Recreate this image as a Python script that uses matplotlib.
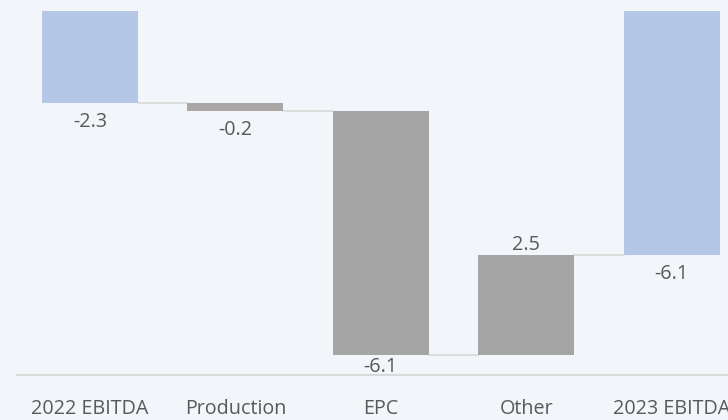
import matplotlib
matplotlib.use("Agg")
import matplotlib.pyplot as plt

categories = ["2022 EBITDA", "Production", "EPC", "Other", "2023 EBITDA"]
values = [-2.3, -0.2, -6.1, 2.5, -6.1]
is_total = [True, False, False, False, True]
labels = ["-2.3", "-0.2", "-6.1", "2.5", "-6.1"]

BG = "#f2f5f9"
BLUE = "#b4c7e7"
GRAY = "#a5a5a5"
PROD = "#aaa6a6"
LINE = "#d9d9d9"
TXT = "#595959"
FS = 14.2

plt.rcParams["font.family"] = ["Open Sans", "DejaVu Sans"]

fig = plt.figure(figsize=(7.28, 4.2), dpi=100, facecolor=BG)
ax = fig.add_axes([17.3 / 728, 1 - 375 / 420, 727 / 728, 364 / 420])
ax.set_facecolor(BG)

bottoms, tops, colors = [], [], []
run = 0.0
for i, (v, tot) in enumerate(zip(values, is_total)):
    if tot:
        b, t = 0.0, v
        run = v
        colors.append(BLUE)
    else:
        b, t = run, run + v
        run = run + v
        colors.append(PROD if i == 1 else GRAY)
    bottoms.append(b)
    tops.append(t)

x = list(range(len(categories)))
w = 0.66
heights = [t - b for b, t in zip(bottoms, tops)]
ax.bar(x, heights, bottom=bottoms, width=w, color=colors, linewidth=0, zorder=2)

# connectors
for i in range(len(x) - 1):
    level = tops[i]
    ax.plot([x[i] + w / 2, x[i + 1] - w / 2], [level, level], color=LINE, lw=1.2, zorder=1)

# value labels (EPC label is squeezed against the axis line in the original)
neg_offset = {2: -1.5}
for i, v in enumerate(values):
    end = tops[i]
    if v < 0:
        ax.annotate(labels[i], (x[i], end), xytext=(0, neg_offset.get(i, -6.5)),
                    textcoords="offset points",
                    ha="center", va="top", fontsize=FS, color=TXT, zorder=3)
    else:
        ax.annotate(labels[i], (x[i], end), xytext=(0, 0), textcoords="offset points",
                    ha="center", va="bottom", fontsize=FS, color=TXT, zorder=3)

ax.set_xlim(-0.5, 4.5)
ax.set_ylim(-9.1, 0)
ax.set_xticks(x)
ax.set_xticklabels(categories, fontsize=FS, color=TXT)
ax.tick_params(axis="x", length=0, pad=17)
ax.set_yticks([])
for s in ["top", "right", "left"]:
    ax.spines[s].set_visible(False)
ax.spines["bottom"].set_color(LINE)
ax.spines["bottom"].set_linewidth(1.5)

fig.savefig("out.png", dpi=100, facecolor=BG)
